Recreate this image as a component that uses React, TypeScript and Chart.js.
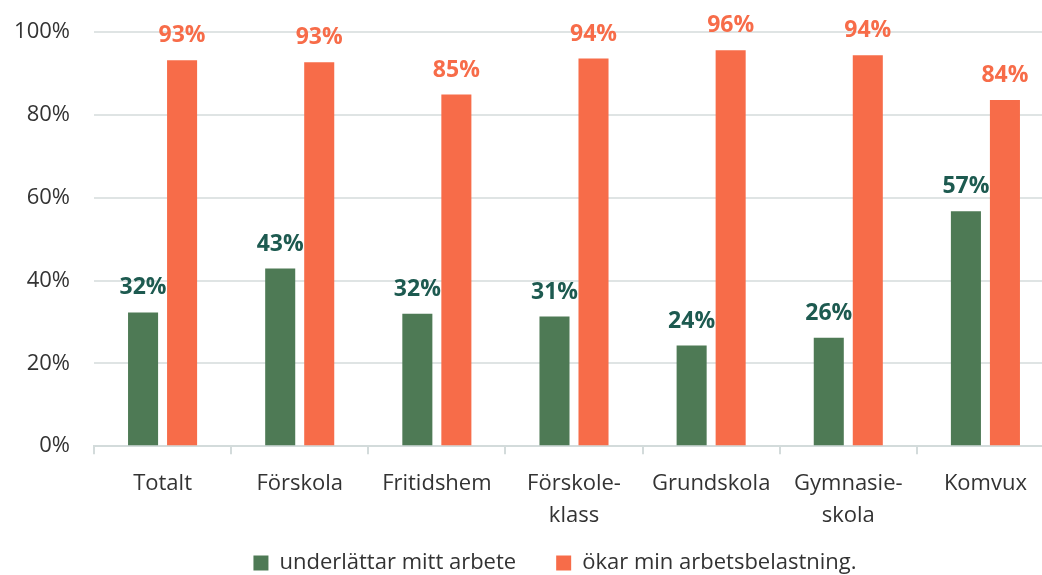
import React, { useEffect, useRef } from "react";
import { Chart, registerables } from "chart.js";

Chart.register(...registerables);

const categories: (string | string[])[] = [
  "Totalt",
  "Förskola",
  "Fritidshem",
  ["Förskole-", "klass"],
  "Grundskola",
  ["Gymnasie-", "skola"],
  "Komvux",
];
const underlattar = [32.3, 42.9, 32.0, 31.3, 24.3, 26.2, 56.7];
const okar = [93.2, 92.7, 84.9, 93.6, 95.6, 94.4, 83.6];
const seriesNames = ["underlättar mitt arbete", "ökar min arbetsbelastning."];
const yTicks = [0, 20, 40, 60, 80, 100];

const GREEN = "#4e7a55";
const ORANGE = "#f76c49";
const GREEN_LABEL = "#1d5a50";
const FONT = '"Open Sans", "Noto Sans", sans-serif';

const labelColors = [GREEN_LABEL, ORANGE];

const valueLabels = {
  id: "valueLabels",
  afterDatasetsDraw(chart: any) {
    const ctx = chart.ctx;
    chart.data.datasets.forEach((ds: any, i: number) => {
      const meta = chart.getDatasetMeta(i);
      meta.data.forEach((bar: any, j: number) => {
        ctx.save();
        ctx.font = `bold 23px ${FONT}`;
        ctx.fillStyle = labelColors[i];
        ctx.textAlign = "center";
        ctx.textBaseline = "alphabetic";
        ctx.fillText(Math.round(ds.data[j]) + "%", bar.x, bar.y - 18);
        ctx.restore();
      });
    });
  },
};

// place the legend like the original (centred under the full picture, low on the page)
const legendPlacer = {
  id: "legendPlacer",
  afterLayout(chart: any) {
    const lg = chart.legend;
    if (!lg) return;
    const h = lg.height;
    lg.left = 56;
    lg.right = 1054;
    lg.top = 512;
    lg.bottom = 512 + h;
  },
};

export default function App() {
  const ref = useRef<HTMLCanvasElement | null>(null);
  useEffect(() => {
    if (!ref.current) return;
    Chart.defaults.font.family = FONT;
    const chart = new Chart(ref.current, {
      type: "bar",
      data: {
        labels: categories,
        datasets: [
          {
            label: seriesNames[0],
            data: underlattar,
            backgroundColor: GREEN,
            categoryPercentage: 0.569,
            barPercentage: 0.77,
          },
          {
            label: seriesNames[1],
            data: okar,
            backgroundColor: ORANGE,
            categoryPercentage: 0.569,
            barPercentage: 0.77,
          },
        ],
      },
      options: {
        animation: false,
        responsive: false,
        devicePixelRatio: 1,
        layout: { padding: { top: 32, left: 13, right: 6, bottom: 0 } },
        plugins: {
          legend: {
            position: "bottom",
            labels: {
              boxWidth: 15,
              boxHeight: 15,
              padding: 40,
              color: "#333333",
              font: { size: 22, family: FONT },
            },
          },
          tooltip: { enabled: false },
        },
        scales: {
          x: {
            grid: {
              display: true,
              drawOnChartArea: false,
              drawTicks: true,
              tickLength: 8,
              color: "#d3dbdb",
              lineWidth: 2,
              offset: true,
            },
            border: { display: true, color: "#d3dbdb", width: 2 },
            ticks: {
              color: "#333333",
              padding: 14,
              font: { size: 22, family: FONT, lineHeight: 1.45 },
              maxRotation: 0,
              autoSkip: false,
            },
          },
          y: {
            min: 0,
            max: 100,
            afterBuildTicks: (scale: any) => {
              scale.ticks = yTicks.map((v) => ({ value: v }));
            },
            grid: {
              color: "#dfe4e4",
              lineWidth: 2,
              drawTicks: true,
              tickLength: 24,
              tickColor: "rgba(0,0,0,0)",
            },
            border: { display: false },
            ticks: {
              color: "#333333",
              padding: 0,
              font: { size: 22, family: FONT },
              callback: (v: any) => v + "%",
            },
            afterFit: (scale: any) => {
              scale.width = 81;
            },
          },
        },
      },
      plugins: [valueLabels, legendPlacer],
    });
    return () => chart.destroy();
  }, []);
  return (
    <div
      style={{
        position: "absolute",
        left: 0,
        top: 0,
        width: 1042,
        height: 575,
        overflow: "hidden",
        background: "#ffffff",
      }}
    >
      <canvas ref={ref} width={1060} height={618} style={{ width: 1060, height: 618 }} />
    </div>
  );
}
